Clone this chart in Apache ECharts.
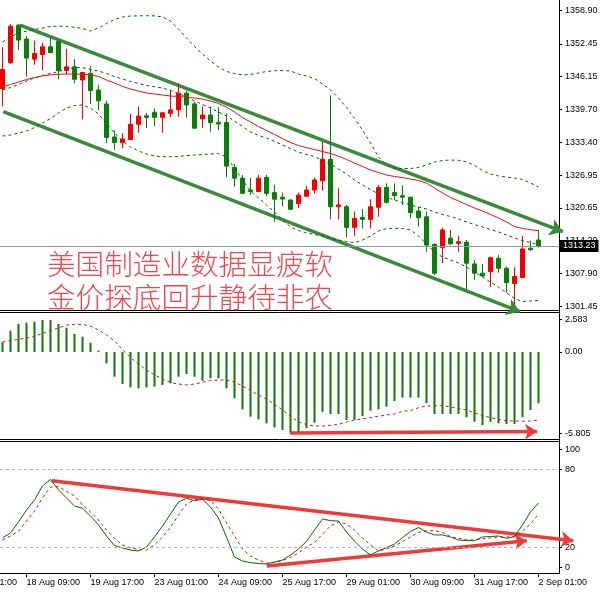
<!DOCTYPE html>
<html><head><meta charset="utf-8">
<script src="https://cdn.jsdelivr.net/npm/echarts@6/dist/echarts.min.js"></script>
<style>html,body{margin:0;padding:0;background:#fff}#c{width:601px;height:593px}</style>
</head><body><div id="c"></div>
<script>
// ---------- data (H4 bars, index 0 = 17 Aug 21:00) ----------
const tickIndex  = [3, 11, 19, 27, 35, 43, 51, 59, 67];
const tickLabels = ['18 Aug 09:00','19 Aug 17:00','23 Aug 01:00','24 Aug 09:00','25 Aug 17:00','29 Aug 01:00','30 Aug 09:00','31 Aug 17:00','2 Sep 01:00'];
const firstLabel = '17 Aug 01:00';

const openP = [1343.8,1348.8,1356.1,1353.4,1349.5,1350.4,1351.9,1352.9,1347.3,1348.0,
  1345.45,1346.75,1343.5,1340.8,1334.4,1333.3,1333.9,1336.85,1338.5,1339.2,
  1338.2,1339.0,1339.65,1342.9,1340.8,1337.9,1338.65,1337.25,1337.2,1328.5,
  1326.4,1324.1,1323.8,1326.55,1323.6,1322.7,1322.15,1321.5,1322.9,1324.1,
  1325.9,1330.05,1320.85,1320.85,1316.85,1318.8,1318.4,1320.75,1324.6,1323.6,
  1323.0,1322.7,1320.0,1318.9,1313.55,1312.9,1314.75,1313.75,1313.95,1309.75,
  1307.95,1308.25,1310.85,1308.9,1305.95,1307.1,1312.8,1314.4];
const highP = [1351.8,1356.3,1356.3,1354.0,1353.1,1352.7,1353.7,1353.2,1351.5,1349.5,
  1347.0,1348.2,1344.5,1341.4,1335.7,1335.1,1338.85,1340.3,1339.1,1339.95,
  1339.1,1343.6,1344.8,1343.4,1341.2,1340.3,1340.3,1340.15,1339.0,1329.15,
  1327.0,1326.4,1327.0,1327.0,1325.1,1323.6,1322.3,1323.6,1324.9,1326.55,
  1333.45,1342.5,1324.45,1321.2,1319.9,1320.4,1322.3,1325.05,1325.4,1325.4,
  1325.05,1322.8,1320.85,1319.9,1313.75,1316.8,1316.35,1315.2,1314.4,1310.5,
  1309.75,1311.15,1311.5,1309.2,1309.1,1315.2,1314.3,1316.35];
const lowP = [1340.3,1348.6,1351.3,1346.1,1348.4,1347.4,1350.7,1345.6,1346.6,1344.8,
  1337.8,1340.8,1339.6,1333.2,1331.9,1332.2,1333.9,1335.2,1336.1,1336.5,
  1335.2,1338.2,1338.3,1338.2,1336.0,1336.1,1335.4,1335.7,1326.6,1324.75,
  1323.3,1323.1,1323.8,1322.9,1317.95,1320.9,1320.2,1320.55,1322.8,1323.45,
  1323.95,1318.4,1318.4,1314.9,1315.2,1316.65,1316.65,1318.9,1321.5,1322.15,
  1321.15,1318.6,1317.0,1312.1,1307.6,1309.9,1313.4,1312.1,1304.8,1306.65,
  1307.3,1305.3,1308.05,1304.15,1301.8,1307.1,1312.3,1312.9];
const closeP = [1347.5,1355.9,1353.2,1349.7,1350.6,1351.9,1350.75,1347.3,1348.0,1345.6,
  1346.9,1343.4,1341.4,1334.3,1333.3,1334.0,1336.85,1338.45,1338.2,1338.2,
  1339.1,1339.65,1342.9,1340.6,1336.1,1338.65,1337.2,1336.9,1328.75,1326.4,
  1323.45,1323.8,1326.4,1323.45,1322.3,1322.35,1320.35,1323.1,1324.1,1326.05,
  1330.05,1320.85,1321.2,1316.85,1318.6,1318.4,1320.85,1324.6,1321.7,1323.0,
  1322.7,1319.7,1318.7,1313.4,1307.95,1316.35,1313.65,1314.05,1309.9,1307.95,
  1307.4,1310.95,1308.9,1306.1,1307.3,1312.65,1312.5,1313.23];

const bbUpper = [1352.83,1353.80,1354.57,1354.96,1355.25,1355.54,1355.83,1355.93,1355.83,1355.68,
  1355.45,1354.96,1355.54,1356.42,1357.19,1357.68,1357.87,1357.91,1357.93,1357.91,
  1357.68,1356.90,1355.35,1353.60,1351.95,1350.50,1349.14,1347.97,1347.10,1346.71,
  1346.42,1346.52,1346.81,1347.10,1347.25,1347.29,1347.20,1346.61,1346.23,1345.74,
  1344.67,1343.51,1341.96,1340.11,1337.98,1335.74,1333.22,1330.50,1328.95,1328.31,
  1328.27,1328.27,1328.47,1328.95,1329.53,1329.82,1329.92,1329.86,1329.59,1328.85,
  1327.88,1327.20,1326.82,1326.62,1326.43,1326.14,1325.46,1324.68];
const bbMid = [1343.51,1343.99,1344.58,1345.26,1345.84,1346.32,1346.71,1347.10,1347.68,1347.84,
  1347.86,1347.49,1347.20,1346.71,1346.13,1345.64,1345.16,1344.77,1344.38,1344.13,
  1343.90,1343.41,1342.83,1342.15,1341.41,1340.69,1340.01,1339.24,1338.46,1337.49,
  1336.42,1335.36,1334.68,1334.19,1333.55,1332.83,1332.15,1331.47,1330.99,1330.60,
  1329.82,1329.15,1328.17,1327.20,1326.04,1325.07,1324.20,1323.32,1322.68,1322.16,
  1321.67,1321.19,1320.80,1320.41,1319.83,1319.34,1318.95,1318.47,1317.89,1317.40,
  1316.92,1316.43,1315.95,1315.36,1314.78,1314.30,1313.91,1313.42];
const bbLower = [1334.58,1334.77,1335.16,1335.55,1336.23,1337.10,1337.98,1339.04,1340.01,1340.50,
  1340.60,1340.01,1338.85,1337.10,1335.16,1333.61,1332.44,1331.67,1331.09,1330.70,
  1330.56,1330.56,1330.60,1330.76,1330.89,1330.99,1331.09,1331.18,1330.50,1328.37,
  1326.04,1323.90,1322.55,1321.19,1319.83,1318.28,1316.92,1316.24,1315.75,1315.46,
  1315.17,1314.78,1314.39,1314.10,1313.87,1314.39,1315.17,1316.14,1316.63,1316.66,
  1316.63,1316.33,1315.17,1313.62,1312.06,1311.09,1310.51,1309.93,1309.15,1308.18,
  1307.21,1306.24,1305.27,1304.11,1303.04,1302.46,1302.55,1302.65];
const redMA = [1344.09,1344.58,1345.06,1345.55,1345.93,1346.23,1346.46,1346.58,1346.61,1346.61,
  1346.56,1346.42,1346.13,1345.45,1344.87,1344.19,1343.70,1343.31,1342.93,1342.73,
  1342.54,1342.34,1342.25,1342.09,1341.96,1341.76,1341.37,1340.89,1340.21,1339.24,
  1338.17,1337.30,1336.42,1335.65,1334.87,1334.09,1333.32,1332.74,1332.31,1331.96,
  1331.57,1331.18,1330.66,1330.02,1329.34,1328.66,1327.98,1327.50,1327.01,1326.72,
  1326.52,1326.23,1325.94,1325.46,1324.49,1323.52,1322.64,1321.96,1321.28,1320.60,
  1320.02,1319.34,1318.66,1317.89,1317.01,1316.63,1316.39,1316.20];

const macdHist = [0.65,1.43,1.88,1.97,2.03,2.15,2.15,1.88,1.63,1.21,
  1.03,0.62,0.09,-0.76,-1.66,-2.15,-2.37,-2.44,-2.37,-2.33,
  -2.21,-2.10,-1.66,-1.48,-1.66,-1.93,-1.77,-1.77,-2.44,-3.11,
  -3.85,-4.34,-4.52,-4.79,-5.07,-5.23,-5.42,-5.35,-5.12,-4.74,
  -4.01,-4.16,-4.16,-4.56,-4.56,-4.30,-3.94,-3.85,-3.67,-3.29,
  -3.06,-3.06,-3.06,-3.44,-4.16,-4.16,-4.16,-4.16,-4.38,-4.68,
  -4.90,-4.68,-4.79,-4.83,-4.83,-4.38,-3.89,-3.44];
const macdSignal = [0.67,0.76,0.85,0.94,1.04,1.24,1.44,1.61,1.81,1.85,
  1.85,1.73,1.48,1.14,0.74,0.17,-0.37,-0.81,-1.21,-1.54,
  -1.81,-2.05,-2.15,-2.21,-2.15,-2.03,-1.91,-1.88,-1.88,-2.01,
  -2.28,-2.58,-2.89,-3.17,-3.52,-3.89,-4.30,-4.70,-4.87,-4.97,
  -4.97,-4.92,-4.85,-4.70,-4.56,-4.48,-4.40,-4.31,-4.23,-4.16,
  -3.98,-3.93,-3.74,-3.62,-3.61,-3.60,-3.69,-3.79,-3.89,-4.09,
  -4.26,-4.40,-4.52,-4.61,-4.63,-4.65,-4.63,-4.58];

const stochK = [27.2,31.0,39.5,48.7,56.4,67.2,72.2,64.1,57.9,51.8,
  50.0,44.1,37.2,28.7,21.4,19.5,17.9,17.2,20.2,27.9,
  36.4,45.6,54.8,57.7,55.8,56.9,51.0,42.5,27.9,12.5,
  9.5,8.2,7.5,7.2,8.7,10.2,14.1,18.7,24.5,33.3,
  41.8,40.5,40.2,31.8,24.8,18.7,14.1,17.2,19.8,22.5,
  27.5,32.2,35.2,31.8,29.5,29.5,27.9,25.6,25.2,25.1,
  27.9,28.3,28.7,26.9,28.2,37.2,47.2,54.1];
const stochD = [25.6,28.7,32.5,40.2,47.9,57.9,66.4,66.8,62.9,59.5,
  52.5,47.2,41.0,33.3,26.8,21.8,19.5,18.3,17.9,21.8,
  27.9,35.6,44.8,53.3,56.4,57.7,56.0,49.5,38.7,28.7,
  18.7,13.3,10.2,7.7,8.3,9.8,12.2,15.6,20.2,23.7,
  30.2,36.4,39.5,37.9,33.3,27.2,21.8,17.2,18.7,21.0,
  24.5,27.9,31.4,32.8,32.8,31.4,28.2,26.8,25.8,25.6,
  26.4,27.2,27.9,27.9,28.3,32.5,37.9,45.6];

const priceTicks = [1358.90,1352.45,1346.15,1339.70,1333.40,1326.95,1320.65,1314.20,1307.90,1301.45];
const lastPrice = 1313.23;
const macdLabels = ['2.583','0.00','-5.805'];
const stochLabels = ['100','80','20','0'];
const stochLevels = [80, 20];

// hand-drawn trend arrows, in bar-index / value units
const channelUpper = [[2.19, 1356.12], [70.06, 1316.00]];
const channelLower = [[0.10, 1339.30], [64.69, 1300.48]];
const macdArrow    = [[35.94, -5.44], [66.81, -5.34]];
const stochArrowTop = [[6.15, 71.2], [71.35, 25.1]];
const stochArrowBottom = [[33.03, 5.6], [65.53, 25.1]];

const headline1 = '美国制造业数据显疲软';
const headline2 = '金价探底回升静待非农';

// ---------- chart ----------
const XMIN = -0.3125, XMAX = 69.5625;
const FONT = 'Liberation Sans';
const idx = openP.map((_, i) => i);
const pair = arr => arr.map((v, i) => [i, v]);

const chart = echarts.init(document.getElementById('c'), null, {renderer: 'canvas'});

const baseX = g => ({type: 'value', gridIndex: g, min: XMIN, max: XMAX, show: false, splitLine: {show: false}});
const yCommon = {
  position: 'right', splitLine: {show: false},
  axisLine: {show: true, onZero: false, lineStyle: {color: '#000', width: 1}},
  axisTick: {show: true, length: 3, lineStyle: {color: '#000'}},
  axisLabel: {color: '#000', fontSize: 9, fontFamily: FONT, margin: 6}
};

const macdLabelVals = [2.194, 0, -5.456];
const stochLabelVals = [95.4, 80, 20, 4.6];

const option = {
  animation: false,
  backgroundColor: '#fff',
  grid: [
    {left: 0, right: 42, top: 0, height: 310.5},
    {left: 0, right: 42, top: 313.5, height: 125},
    {left: 0, right: 42, top: 443.3, height: 130}
  ],
  xAxis: [
    baseX(0), baseX(1),
    {type: 'value', gridIndex: 2, min: XMIN, max: XMAX, splitLine: {show: false},
     axisLine: {show: true, onZero: false, lineStyle: {color: '#000', width: 1}},
     axisTick: {show: true, length: 4, customValues: tickIndex, lineStyle: {color: '#000'}},
     axisLabel: {customValues: tickIndex, align: 'left', margin: 5, fontSize: 9, fontFamily: FONT, color: '#000',
       formatter: v => tickLabels[tickIndex.indexOf(Math.round(v))] || ''}}
  ],
  yAxis: [
    Object.assign({}, yCommon, {type: 'value', gridIndex: 0, min: 1300.71, max: 1360.98,
      axisTick: Object.assign({}, yCommon.axisTick, {customValues: priceTicks}),
      axisLabel: Object.assign({}, yCommon.axisLabel, {customValues: priceTicks, formatter: v => v.toFixed(2)})}),
    Object.assign({}, yCommon, {type: 'value', gridIndex: 1, min: -5.805, max: 2.583,
      axisTick: Object.assign({}, yCommon.axisTick, {customValues: macdLabelVals}),
      axisLabel: Object.assign({}, yCommon.axisLabel, {customValues: macdLabelVals,
        formatter: v => v > 1 ? macdLabels[0] : (v < -1 ? macdLabels[2] : macdLabels[1])})}),
    Object.assign({}, yCommon, {type: 'value', gridIndex: 2, min: 0, max: 100,
      axisTick: Object.assign({}, yCommon.axisTick, {customValues: stochLabelVals}),
      axisLabel: Object.assign({}, yCommon.axisLabel, {customValues: stochLabelVals,
        formatter: v => v > 90 ? stochLabels[0] : v > 50 ? stochLabels[1] : v > 10 ? stochLabels[2] : stochLabels[3]})})
  ],
  series: [
    {type: 'line', name: 'bbUpper', xAxisIndex: 0, yAxisIndex: 0, data: pair(bbUpper), showSymbol: false, silent: true,
     lineStyle: {color: '#0e5e0e', width: 1, type: [3, 3]}},
    {type: 'line', name: 'bbMid', xAxisIndex: 0, yAxisIndex: 0, data: pair(bbMid), showSymbol: false, silent: true,
     lineStyle: {color: '#0e5e0e', width: 1, type: [3, 3]}},
    {type: 'line', name: 'bbLower', xAxisIndex: 0, yAxisIndex: 0, data: pair(bbLower), showSymbol: false, silent: true,
     lineStyle: {color: '#0e5e0e', width: 1, type: [3, 3]}},
    {type: 'line', name: 'ma', xAxisIndex: 0, yAxisIndex: 0, data: pair(redMA), showSymbol: false, silent: true,
     lineStyle: {color: '#dc1414', width: 1}},
    {type: 'candlestick', xAxisIndex: 0, yAxisIndex: 0, barWidth: 5,
     data: idx.map(i => [i, openP[i], closeP[i], lowP[i], highP[i]]),
     itemStyle: {color: '#f00000', color0: '#0a7d0a', borderColor: '#f00000', borderColor0: '#0a7d0a', borderWidth: 1},
     markLine: {silent: true, symbol: ['none', 'none'], data: [{yAxis: lastPrice}],
       lineStyle: {color: '#8d9ba6', width: 1, type: 'solid'},
       label: {show: true, position: 'end', distance: 1, formatter: lastPrice.toFixed(2), color: '#fff',
         backgroundColor: '#000', padding: [2, 3, 1, 3], fontSize: 9, fontFamily: FONT}}},
    {type: 'lines', coordinateSystem: 'cartesian2d', xAxisIndex: 0, yAxisIndex: 0, clip: false, silent: true,
     symbol: ['none', 'arrow'], symbolSize: 13,
     lineStyle: {color: '#3b8a3b', width: 3.5, opacity: 1},
     data: [{coords: channelUpper}, {coords: channelLower}]},

    {type: 'bar', xAxisIndex: 1, yAxisIndex: 1, data: pair(macdHist), barWidth: 2, silent: true,
     itemStyle: {color: '#0a7a0a'}},
    {type: 'line', xAxisIndex: 1, yAxisIndex: 1, data: pair(macdSignal), showSymbol: false, silent: true,
     lineStyle: {color: '#d01818', width: 1, type: [3, 3]}},
    {type: 'lines', coordinateSystem: 'cartesian2d', xAxisIndex: 1, yAxisIndex: 1, clip: false, silent: true,
     symbol: ['none', 'arrow'], symbolSize: 12,
     lineStyle: {color: '#f03a3a', width: 3.5, opacity: 1},
     data: [{coords: macdArrow}]},

    {type: 'line', xAxisIndex: 2, yAxisIndex: 2, data: pair(stochK), showSymbol: false, silent: true,
     lineStyle: {color: '#0b660b', width: 1},
     markLine: {silent: true, symbol: ['none', 'none'], label: {show: false},
       lineStyle: {color: '#b4b4b4', width: 1, type: [3, 3]},
       data: stochLevels.map(v => ({yAxis: v}))}},
    {type: 'line', xAxisIndex: 2, yAxisIndex: 2, data: pair(stochD), showSymbol: false, silent: true,
     lineStyle: {color: '#d01818', width: 1, type: [3, 3]}},
    {type: 'lines', coordinateSystem: 'cartesian2d', xAxisIndex: 2, yAxisIndex: 2, clip: false, silent: true,
     symbol: ['none', 'arrow'], symbolSize: 12,
     lineStyle: {color: '#f03a3a', width: 3.5, opacity: 1},
     data: [{coords: stochArrowTop}, {coords: stochArrowBottom}]}
  ],
  graphic: [
    {type: 'line', silent: true, shape: {x1: 559.5, y1: 0, x2: 559.5, y2: 574}, style: {stroke: '#000', lineWidth: 1}},
    {type: 'line', silent: true, shape: {x1: 0, y1: 310.5, x2: 559.5, y2: 310.5}, style: {stroke: '#000', lineWidth: 1}},
    {type: 'line', silent: true, shape: {x1: 0, y1: 312.5, x2: 559.5, y2: 312.5}, style: {stroke: '#000', lineWidth: 1}},
    {type: 'line', silent: true, shape: {x1: 0, y1: 439.5, x2: 559.5, y2: 439.5}, style: {stroke: '#000', lineWidth: 1}},
    {type: 'line', silent: true, shape: {x1: 0, y1: 441.5, x2: 559.5, y2: 441.5}, style: {stroke: '#000', lineWidth: 1}},
    {type: 'text', silent: true, x: -36.5, y: 578.3,
     style: {text: firstLabel, fontSize: 9, fontFamily: FONT, fill: '#000', verticalAlign: 'top'}},
    {type: 'text', silent: true, x: 47, y: 264, z: 100,
     style: {text: headline1, fontSize: 28.6, fontWeight: 300, fontFamily: 'Noto Sans CJK SC', fill: '#ec4852', verticalAlign: 'middle'}},
    {type: 'text', silent: true, x: 47, y: 297.5, z: 100,
     style: {text: headline2, fontSize: 28.6, fontWeight: 300, fontFamily: 'Noto Sans CJK SC', fill: '#ec4852', verticalAlign: 'middle'}}
  ]
};
chart.setOption(option);
</script></body></html>
